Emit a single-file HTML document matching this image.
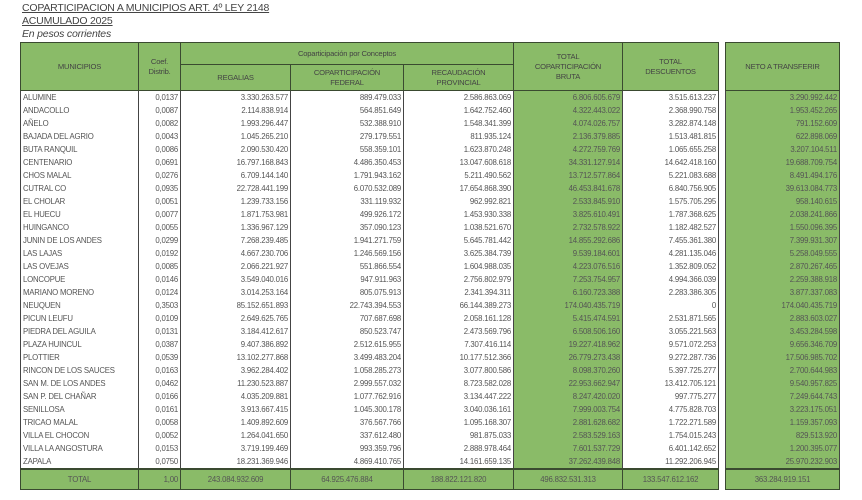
<!DOCTYPE html>
<html><head><meta charset="utf-8"><style>
body{margin:0;width:862px;height:500px;background:#fff;font-family:"Liberation Sans",sans-serif;position:relative;overflow:hidden;color:#555}
.t{position:absolute;left:22px;font-size:10.5px;color:#444;text-decoration:underline;letter-spacing:-0.2px}
table{position:absolute;border-collapse:collapse;table-layout:fixed;font-size:7.8px;letter-spacing:-0.2px}
td{padding:0 2px;height:13px;line-height:13px;white-space:nowrap;overflow:hidden;border-left:1px solid #444;border-right:1px solid #444}
td.n{text-align:right}
.g{background:#8abb68}
th{background:#8abb68;font-weight:normal;border:1px solid #3a4a30;color:#444;font-size:7.6px;line-height:10px;padding:0}
.tot td{background:#8abb68;height:19px;line-height:19px;text-align:center;border:1px solid #3a4a30;border-top:2px solid #3a4a30}
</style></head><body>
<div class="t" style="top:2px">COPARTICIPACION A MUNICIPIOS ART. 4º LEY 2148</div>
<div class="t" style="top:15px">ACUMULADO 2025</div>
<div class="t" style="top:28px;text-decoration:none;font-style:italic">En pesos corrientes</div>
<table id="m" style="left:20px;top:42px;width:698px">
<colgroup><col style="width:118px"><col style="width:42px"><col style="width:110px"><col style="width:113px"><col style="width:110px"><col style="width:109px"><col style="width:96px"></colgroup>
<tr><th rowspan="2" style="height:47px">MUNICIPIOS</th><th rowspan="2">Coef.<br>Distrib.</th><th colspan="3" style="height:21px">Coparticipación por Conceptos</th><th rowspan="2">TOTAL<br>COPARTICIPACIÓN<br>BRUTA</th><th rowspan="2">TOTAL<br>DESCUENTOS</th></tr>
<tr><th style="height:24px">REGALIAS</th><th>COPARTICIPACIÓN<br>FEDERAL</th><th>RECAUDACIÓN<br>PROVINCIAL</th></tr>
</table>
<table id="n" style="left:725px;top:42px;width:115px"><tr><th style="height:47px">NETO A TRANSFERIR</th></tr></table>
<script>
var d=[
["ALUMINE","0,0137","3.330.263.577","889.479.033","2.586.863.069","6.806.605.679","3.515.613.237","3.290.992.442"],
["ANDACOLLO","0,0087","2.114.838.914","564.851.649","1.642.752.460","4.322.443.022","2.368.990.758","1.953.452.265"],
["AÑELO","0,0082","1.993.296.447","532.388.910","1.548.341.399","4.074.026.757","3.282.874.148","791.152.609"],
["BAJADA DEL AGRIO","0,0043","1.045.265.210","279.179.551","811.935.124","2.136.379.885","1.513.481.815","622.898.069"],
["BUTA RANQUIL","0,0086","2.090.530.420","558.359.101","1.623.870.248","4.272.759.769","1.065.655.258","3.207.104.511"],
["CENTENARIO","0,0691","16.797.168.843","4.486.350.453","13.047.608.618","34.331.127.914","14.642.418.160","19.688.709.754"],
["CHOS MALAL","0,0276","6.709.144.140","1.791.943.162","5.211.490.562","13.712.577.864","5.221.083.688","8.491.494.176"],
["CUTRAL CO","0,0935","22.728.441.199","6.070.532.089","17.654.868.390","46.453.841.678","6.840.756.905","39.613.084.773"],
["EL CHOLAR","0,0051","1.239.733.156","331.119.932","962.992.821","2.533.845.910","1.575.705.295","958.140.615"],
["EL HUECU","0,0077","1.871.753.981","499.926.172","1.453.930.338","3.825.610.491","1.787.368.625","2.038.241.866"],
["HUINGANCO","0,0055","1.336.967.129","357.090.123","1.038.521.670","2.732.578.922","1.182.482.527","1.550.096.395"],
["JUNIN DE LOS ANDES","0,0299","7.268.239.485","1.941.271.759","5.645.781.442","14.855.292.686","7.455.361.380","7.399.931.307"],
["LAS LAJAS","0,0192","4.667.230.706","1.246.569.156","3.625.384.739","9.539.184.601","4.281.135.046","5.258.049.555"],
["LAS OVEJAS","0,0085","2.066.221.927","551.866.554","1.604.988.035","4.223.076.516","1.352.809.052","2.870.267.465"],
["LONCOPUE","0,0146","3.549.040.016","947.911.963","2.756.802.979","7.253.754.957","4.994.366.039","2.259.388.918"],
["MARIANO MORENO","0,0124","3.014.253.164","805.075.913","2.341.394.311","6.160.723.388","2.283.386.305","3.877.337.083"],
["NEUQUEN","0,3503","85.152.651.893","22.743.394.553","66.144.389.273","174.040.435.719","0","174.040.435.719"],
["PICUN LEUFU","0,0109","2.649.625.765","707.687.698","2.058.161.128","5.415.474.591","2.531.871.565","2.883.603.027"],
["PIEDRA DEL AGUILA","0,0131","3.184.412.617","850.523.747","2.473.569.796","6.508.506.160","3.055.221.563","3.453.284.598"],
["PLAZA HUINCUL","0,0387","9.407.386.892","2.512.615.955","7.307.416.114","19.227.418.962","9.571.072.253","9.656.346.709"],
["PLOTTIER","0,0539","13.102.277.868","3.499.483.204","10.177.512.366","26.779.273.438","9.272.287.736","17.506.985.702"],
["RINCON DE LOS SAUCES","0,0163","3.962.284.402","1.058.285.273","3.077.800.586","8.098.370.260","5.397.725.277","2.700.644.983"],
["SAN M. DE LOS ANDES","0,0462","11.230.523.887","2.999.557.032","8.723.582.028","22.953.662.947","13.412.705.121","9.540.957.825"],
["SAN P. DEL CHAÑAR","0,0166","4.035.209.881","1.077.762.916","3.134.447.222","8.247.420.020","997.775.277","7.249.644.743"],
["SENILLOSA","0,0161","3.913.667.415","1.045.300.178","3.040.036.161","7.999.003.754","4.775.828.703","3.223.175.051"],
["TRICAO MALAL","0,0058","1.409.892.609","376.567.766","1.095.168.307","2.881.628.682","1.722.271.589","1.159.357.093"],
["VILLA EL CHOCON","0,0052","1.264.041.650","337.612.480","981.875.033","2.583.529.163","1.754.015.243","829.513.920"],
["VILLA LA ANGOSTURA","0,0153","3.719.199.469","993.359.796","2.888.978.464","7.601.537.729","6.401.142.652","1.200.395.077"],
["ZAPALA","0,0750","18.231.369.946","4.869.410.765","14.161.659.135","37.262.439.848","11.292.206.945","25.970.232.903"]];
var m=document.getElementById('m'),n=document.getElementById('n'),h='',k='';
d.forEach(function(r){h+='<tr><td>'+r[0]+'</td>';for(var i=1;i<7;i++)h+='<td class="n'+(i==5?' g':'')+'">'+r[i]+'</td>';h+='</tr>';k+='<tr><td class="n g">'+r[7]+'</td></tr>';});
h+='<tr class="tot"><td>TOTAL</td><td style="text-align:right">1,00</td><td>243.084.932.609</td><td>64.925.476.884</td><td>188.822.121.820</td><td>496.832.531.313</td><td>133.547.612.162</td></tr>';
k+='<tr class="tot"><td>363.284.919.151</td></tr>';
m.insertAdjacentHTML('beforeend',h);n.insertAdjacentHTML('beforeend',k);
</script>
</body></html>
